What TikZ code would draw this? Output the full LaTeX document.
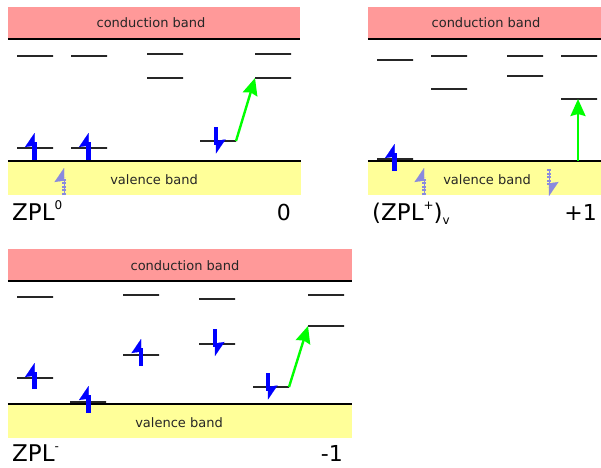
\documentclass[tikz,border=0pt]{standalone}
\usepackage{xcolor}
\usepackage{fontspec}
\setmainfont{DejaVu Sans}
\usetikzlibrary{arrows.meta}
\definecolor{cbpink}{HTML}{FF9999}
\definecolor{vbyellow}{HTML}{FFFF99}
\definecolor{spinfade}{HTML}{8A8ADE}
\newcommand{\suptxt}[1]{{\fontsize{12}{12}\selectfont\raisebox{11pt}{#1}}}
\newcommand{\subtxt}[1]{{\fontsize{12}{12}\selectfont\raisebox{-4pt}{#1}}}
\tikzset{
  cband/.style={rectangle, fill=cbpink, inner sep=0pt},
  vband/.style={rectangle, fill=vbyellow, inner sep=0pt},
  edgeln/.style={draw=black, line width=2.2pt},
  lev/.style={rectangle, draw=black!85, line width=1.4pt, minimum width=36pt, minimum height=0pt, inner sep=0pt, outer sep=0pt},
  spinhead/.style={-{Stealth[left, length=14pt, width=19pt, inset=1.5pt]}, line width=0.1pt, shorten >=0pt},
  spinup/.style={draw=blue, line width=4.4pt, shorten >=9pt, postaction={draw=blue, spinhead, xshift=2pt}},
  spindn/.style={draw=blue, line width=4.4pt, shorten >=9pt, postaction={draw=blue, spinhead, xshift=-2pt}},
  fadeup/.style={draw=spinfade, line width=4pt, dash pattern=on 2pt off 1.6pt, shorten >=9pt, postaction={draw=spinfade, solid, spinhead, xshift=2pt}},
  fadedn/.style={draw=spinfade, line width=4pt, dash pattern=on 2pt off 1.6pt, shorten >=9pt, postaction={draw=spinfade, solid, spinhead, xshift=-2pt}},
  exc/.style={draw=green, line width=2.4pt, -{Stealth[length=17pt, width=15pt, inset=2pt]}},
  bandlbl/.style={font=\fontsize{13}{16}\selectfont, inner sep=0pt, text=black!85},
  caplbl/.style={font=\fontsize{23}{26}\selectfont, inner sep=0pt, anchor=base west},
  chglbl/.style={font=\fontsize{22}{26}\selectfont, inner sep=0pt, anchor=base east}
}
\begin{document}
\begin{tikzpicture}[x=1pt, y=-1pt]
  \useasboundingbox (0,0) rectangle (601,467);
  % neutral
  \node[cband, minimum width=292pt, minimum height=32pt] (c1) at (154,23) {};
  \node[vband, minimum width=293pt, minimum height=34pt] (v1) at (154.5,178) {};
  \draw[edgeln] (c1.south west)--(c1.south east);
  \draw[edgeln] (v1.north west)--(v1.north east);
  \node[bandlbl] (c1t) at (151,23) {conduction band};
  \node[bandlbl] (v1t) at (154,180) {valence band};
  \node[lev] (a1) at (35,56) {};
  \node[lev] (a2) at (89,56) {};
  \node[lev] (a3) at (165,54) {};
  \node[lev] (a4) at (165,78) {};
  \node[lev] (a5) at (273,54) {};
  \node[lev] (a6) at (273,78) {};
  \node[lev] (a7) at (35,148) {};
  \node[lev] (a8) at (89,148) {};
  \node[lev] (a9) at (218,141) {};
  \coordinate (s1a) at (34.5,160); \coordinate (s1b) at (34.5,133);
  \coordinate (s2a) at (88.5,160); \coordinate (s2b) at (88.5,133);
  \coordinate (s3a) at (216,127); \coordinate (s3b) at (216,153.5);
  \coordinate (s4a) at (64,195); \coordinate (s4b) at (64,168);
  \draw[spinup] (s1a)--(s1b); \draw[spinup] (s2a)--(s2b);
  \draw[spindn] (s3a)--(s3b); \draw[fadeup] (s4a)--(s4b);
  \draw[exc] (a9.east)--(a6.west);
  \node[caplbl] (n1) at (12,220) {ZPL\suptxt{0}};
  \node[chglbl] (q1) at (291,220) {0};
  % positive
  \node[cband, minimum width=233pt, minimum height=32pt] (c2) at (484.5,23) {};
  \node[vband, minimum width=233pt, minimum height=34pt] (v2) at (484.5,178) {};
  \draw[edgeln] (c2.south west)--(c2.south east);
  \draw[edgeln] (v2.north west)--(v2.north east);
  \node[bandlbl] (c2t) at (486,23) {conduction band};
  \node[bandlbl] (v2t) at (487,180) {valence band};
  \node[lev] (b1) at (395,60) {};
  \node[lev] (b2) at (449,56) {};
  \node[lev] (b3) at (449,89) {};
  \node[lev] (b4) at (525,56) {};
  \node[lev] (b5) at (525,76) {};
  \node[lev] (b6) at (579,56) {};
  \node[lev] (b7) at (579,99) {};
  \node[lev] (b8) at (395,159) {};
  \coordinate (t1a) at (394.5,171); \coordinate (t1b) at (394.5,144);
  \coordinate (t2a) at (424,195); \coordinate (t2b) at (424,168);
  \coordinate (t3a) at (549,169); \coordinate (t3b) at (549,196);
  \coordinate (t4) at (578,161);
  \draw[spinup] (t1a)--(t1b); \draw[fadeup] (t2a)--(t2b);
  \draw[fadedn] (t3a)--(t3b);
  \draw[exc] (t4)--(b7.south -| t4);
  \node[caplbl] (n2) at (372,220) {(ZPL\suptxt{+})\subtxt{v}};
  \node[chglbl] (q2) at (597,220) {+1};
  % negative
  \node[cband, minimum width=344pt, minimum height=32pt] (c3) at (180,265) {};
  \node[vband, minimum width=344pt, minimum height=34pt] (v3) at (180,421) {};
  \draw[edgeln] (c3.south west)--(c3.south east);
  \draw[edgeln] (v3.north west)--(v3.north east);
  \node[bandlbl] (c3t) at (185,266) {conduction band};
  \node[bandlbl] (v3t) at (179,423) {valence band};
  \node[lev] (d1) at (35,297) {};
  \node[lev] (d2) at (141,295) {};
  \node[lev] (d3) at (217,299) {};
  \node[lev] (d4) at (326,295) {};
  \node[lev] (d5) at (326,326) {};
  \node[lev] (d6) at (35,378) {};
  \node[lev] (d7) at (88,402) {};
  \node[lev] (d8) at (141,355) {};
  \node[lev] (d9) at (217,344) {};
  \node[lev] (d10) at (271,387) {};
  \coordinate (u1a) at (34.5,389); \coordinate (u1b) at (34.5,363);
  \coordinate (u2a) at (88.5,413); \coordinate (u2b) at (88.5,386);
  \coordinate (u3a) at (141,366); \coordinate (u3b) at (141,339);
  \coordinate (u4a) at (215,329); \coordinate (u4b) at (215,356);
  \coordinate (u5a) at (268,373); \coordinate (u5b) at (268,399.5);
  \draw[spinup] (u1a)--(u1b); \draw[spinup] (u2a)--(u2b);
  \draw[spinup] (u3a)--(u3b); \draw[spindn] (u4a)--(u4b);
  \draw[spindn] (u5a)--(u5b);
  \draw[exc] (d10.east)--(d5.west);
  \node[caplbl] (n3) at (12,461.5) {ZPL\suptxt{-}};
  \node[chglbl] (q3) at (343,461.5) {-1};
\end{tikzpicture}
\end{document}
